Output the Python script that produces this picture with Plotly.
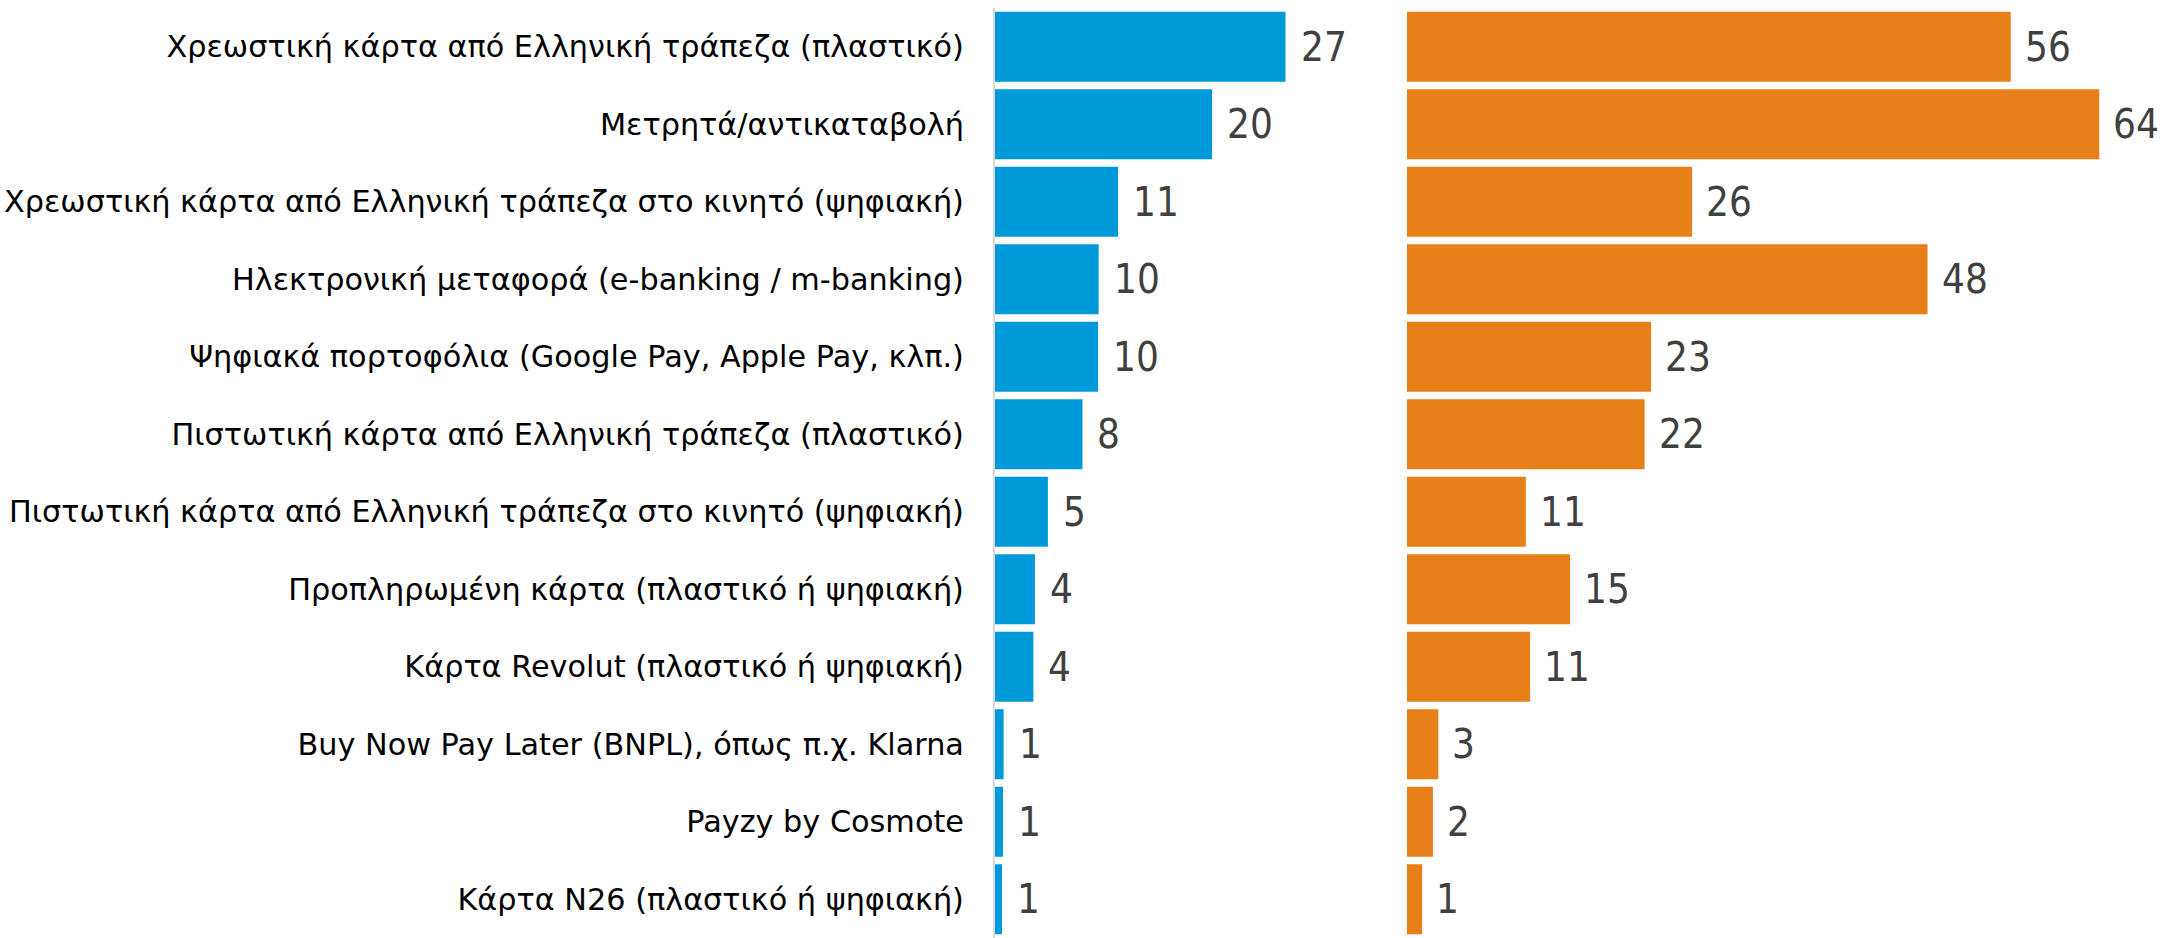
import plotly.graph_objects as go

W, H = 2176, 938

categories = [
    "Χρεωστική κάρτα από Ελληνική τράπεζα (πλαστικό)",
    "Μετρητά/αντικαταβολή",
    "Χρεωστική κάρτα από Ελληνική τράπεζα στο κινητό (ψηφιακή)",
    "Ηλεκτρονική μεταφορά (e-banking / m-banking)",
    "Ψηφιακά πορτοφόλια (Google Pay, Apple Pay, κλπ.)",
    "Πιστωτική κάρτα από Ελληνική τράπεζα (πλαστικό)",
    "Πιστωτική κάρτα από Ελληνική τράπεζα στο κινητό (ψηφιακή)",
    "Προπληρωμένη κάρτα (πλαστικό ή ψηφιακή)",
    "Κάρτα Revolut (πλαστικό ή ψηφιακή)",
    "Buy Now Pay Later (BNPL), όπως π.χ. Klarna",
    "Payzy by Cosmote",
    "Κάρτα N26 (πλαστικό ή ψηφιακή)",
]

# values (labels are the rounded values)
blue_values = [26.9, 20.1, 11.4, 9.6, 9.55, 8.1, 4.9, 3.7, 3.55, 0.8, 0.74, 0.65]
orange_values = [55.9, 64.1, 26.4, 48.2, 22.6, 22.0, 11.0, 15.1, 11.4, 2.9, 2.4, 1.4]

BLUE = "#009ADB"
ORANGE = "#E88019"
LABEL_FONT = "DejaVu Sans, Liberation Sans, Arial, sans-serif"
NUM_FONT = "DejaVu Sans Condensed, Liberation Sans, Arial, sans-serif"

PX_PER_UNIT = 10.8
bx0, bx1 = 995, 1390
ox0, ox1 = 1407, 2176

fig = go.Figure()
fig.add_trace(go.Bar(
    y=categories, x=blue_values, orientation="h",
    marker=dict(color=BLUE, line=dict(width=0)),
    xaxis="x", yaxis="y", hoverinfo="x+y",
))
fig.add_trace(go.Bar(
    y=categories, x=orange_values, orientation="h",
    marker=dict(color=ORANGE, line=dict(width=0)),
    xaxis="x2", yaxis="y2", hoverinfo="x+y",
))

annotations = []
for c, v in zip(categories, blue_values):
    annotations.append(dict(
        x=v, y=c, xref="x", yref="y", text=f"{v:.0f}", showarrow=False,
        xanchor="left", yanchor="middle", xshift=13,
        font=dict(family=NUM_FONT, size=40, color="#404040"),
    ))
for c, v in zip(categories, orange_values):
    annotations.append(dict(
        x=v, y=c, xref="x2", yref="y2", text=f"{v:.0f}", showarrow=False,
        xanchor="left", yanchor="middle", xshift=12,
        font=dict(family=NUM_FONT, size=40, color="#404040"),
    ))

fig.update_layout(
    width=W, height=H,
    margin=dict(l=0, r=0, t=8, b=0),
    paper_bgcolor="white", plot_bgcolor="white",
    showlegend=False, bargap=0.097,
    annotations=annotations,
    xaxis=dict(domain=[bx0 / W, bx1 / W], range=[0, (bx1 - bx0) / PX_PER_UNIT],
               showgrid=False, zeroline=False, showticklabels=False, showline=False),
    xaxis2=dict(domain=[ox0 / W, ox1 / W], range=[0, (ox1 - ox0) / PX_PER_UNIT],
                showgrid=False, zeroline=False, showticklabels=False, showline=False),
    yaxis=dict(anchor="x", autorange="reversed", categoryorder="array",
               categoryarray=categories, showgrid=False, zeroline=False,
               showline=True, linecolor="#d9d9d9", linewidth=2,
               ticks="", ticklabelstandoff=23,
               tickfont=dict(family=LABEL_FONT, size=30.3, color="black")),
    yaxis2=dict(anchor="x2", matches="y", showgrid=False, zeroline=False,
                showline=False, showticklabels=False, ticks=""),
)

fig.write_html("out.html", config={"displayModeBar": False},
               post_script="document.body.style.margin='0';")
